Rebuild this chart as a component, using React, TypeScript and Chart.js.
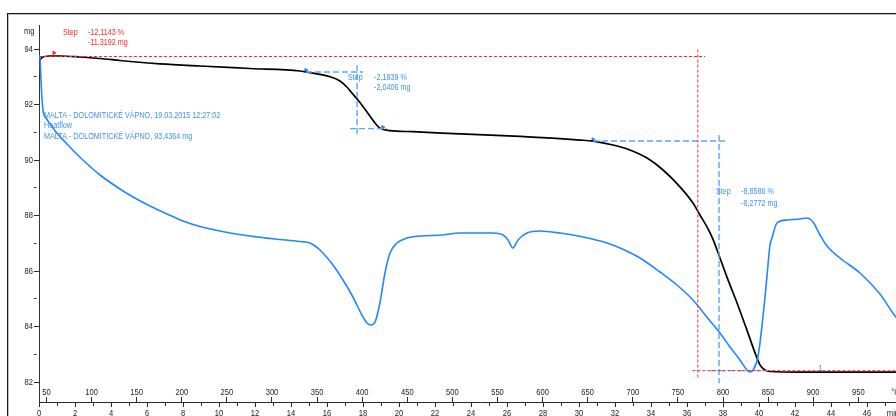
import React, { useEffect, useRef } from "react";
import { Chart, registerables } from "chart.js";

Chart.register(...registerables);

// ---------- DATA ----------
// TG curve: time (min) vs mass (mg)
const tgTime = [0, 0.056, 0.167, 0.556, 1.167, 2.278, 3.389, 4.5, 5.389, 6.722, 8.944, 11.72, 14.5, 14.83, 16.17, 16.72, 17.09, 17.39, 17.72, 18.21, 18.67, 18.94, 19.5, 20.78, 23.39, 26.72, 30.06, 30.78, 31.89, 32.83, 33.78, 34.67, 35.61, 36.33, 36.72, 37.11, 37.44, 37.67, 38.22, 38.78, 39.33, 39.78, 40.06, 40.33, 40.61, 42.28, 45, 49];
const tgMass = [93.495, 93.586, 93.694, 93.748, 93.748, 93.712, 93.658, 93.586, 93.532, 93.467, 93.387, 93.297, 93.207, 93.171, 93.0, 92.85, 92.64, 92.41, 92.16, 91.74, 91.33, 91.15, 91.06, 91.02, 90.94, 90.85, 90.72, 90.68, 90.54, 90.36, 90.07, 89.64, 89.03, 88.45, 88.02, 87.59, 87.15, 86.76, 85.78, 84.85, 83.87, 83.05, 82.61, 82.43, 82.38, 82.36, 82.36, 82.36];

// DSC curve: time (min) vs heat flow (mW/mg)
const dscTime = [0, 0.06, 0.11, 0.17, 0.24, 0.39, 0.67, 0.94, 1.5, 2.44, 3.39, 4.33, 5.22, 6.17, 7.11, 8.0, 8.94, 10.33, 11.72, 13.11, 14.5, 15.06, 15.61, 16.33, 16.89, 17.44, 17.94, 18.22, 18.44, 18.67, 18.94, 19.22, 19.5, 19.89, 20.44, 21.17, 22.44, 23.39, 24.33, 25.22, 25.78, 26.06, 26.33, 26.61, 27.11, 27.83, 28.94, 30.22, 31.56, 32.28, 33.39, 34.5, 35.44, 36.33, 37.28, 37.83, 38.39, 38.94, 39.33, 39.5, 39.67, 39.94, 40.22, 40.44, 40.61, 40.72, 41.0, 41.56, 42.28, 42.67, 43.0, 43.39, 43.78, 44.5, 45.61, 46.72, 47.44, 47.83, 49];
const dscHeat = [2.45, 2.4, 2.2, 2.0, 1.88, 1.82, 1.75, 1.68, 1.57, 1.4, 1.25, 1.13, 1.03, 0.94, 0.86, 0.79, 0.735, 0.68, 0.64, 0.61, 0.585, 0.57, 0.5, 0.35, 0.2, 0.03, -0.15, -0.23, -0.25, -0.22, -0.03, 0.27, 0.47, 0.57, 0.62, 0.64, 0.65, 0.67, 0.67, 0.67, 0.65, 0.6, 0.52, 0.6, 0.67, 0.69, 0.67, 0.63, 0.57, 0.52, 0.42, 0.28, 0.15, 0.0, -0.21, -0.33, -0.47, -0.6, -0.7, -0.72, -0.7, -0.57, -0.17, 0.23, 0.55, 0.62, 0.77, 0.8, 0.81, 0.82, 0.78, 0.65, 0.54, 0.42, 0.27, 0.06, -0.13, -0.22, -0.4];

// Step evaluations (time in min, mass in mg)
const redStepTop = 93.73;
const redStepBottom = 82.41;
const redStepTime = 36.6;
const step1Top = 93.17;
const step1Bottom = 91.13;
const step1Time = 17.67;
const step1Start = 14.83;
const step2Top = 90.685;
const step2Bottom = 82.41;
const step2Time = 37.78;
const step2Start = 30.78;

// Axis definitions
const timeRange = [0, 49];
const tempRange = [41.7, 1019.5];
const massRange = [81.28, 94.865];
const heatRange = [-1.02, 2.75];
const timeLabelMax = 46;
const tempLabelMax = 950;

const RED = "#ff2a2a";
const BLUE = "#1e88ff";
const BLUE_DASH = "#5aa6ff";
const BLUE_TEXT = "#3a93f5";
const AXIS = "#2a2a2a";
const FONT = "'Liberation Sans', Arial, sans-serif";
const SQUEEZE = 0.8;

// annotation texts (time, mass, text, colour)
const annoT = [1.33, 2.72, 2.72, 17.17, 18.61, 18.61, 37.61, 39.0, 39.0, 0.28, 0.28, 0.28, 43.3];
const annoM = [94.61, 94.61, 94.25, 92.99, 92.99, 92.63, 88.85, 88.85, 88.45, 91.62, 91.23, 90.86, 82.5];
const annoText = ["Step", "-12,1143 %", "-11,3192 mg", "Step", "-2,1839 %", "-2,0406 mg", "Step", "-8,8586 %", "-8,2772 mg", "MALTA - DOLOMITICKÉ VÁPNO, 19.03.2015 12:27:02", "Heatflow", "MALTA - DOLOMITICKÉ VÁPNO, 93,4364 mg", "1"];
const annoColor = [RED, RED, RED, BLUE_TEXT, BLUE_TEXT, BLUE_TEXT, BLUE_TEXT, BLUE_TEXT, BLUE_TEXT, BLUE_TEXT, BLUE_TEXT, BLUE_TEXT, BLUE_TEXT];

function squeezedText(ctx: CanvasRenderingContext2D, text: string, px: number, py: number, align: CanvasTextAlign) {
  ctx.save();
  ctx.translate(px, py);
  ctx.scale(SQUEEZE, 1);
  ctx.textAlign = align;
  ctx.fillText(text, 0, 0);
  ctx.restore();
}

const textPlugin = {
  id: "annoTexts",
  afterDraw(chart: any) {
    const { ctx, scales, chartArea } = chart;
    const x = scales.x;
    const y = scales.y;
    const x2 = scales.x2;
    ctx.save();
    ctx.font = `9px ${FONT}`;
    ctx.textBaseline = "middle";
    for (let i = 0; i < annoText.length; i++) {
      ctx.fillStyle = annoColor[i];
      squeezedText(ctx, annoText[i], x.getPixelForValue(annoT[i]), y.getPixelForValue(annoM[i]), "left");
    }
    ctx.fillStyle = "#222";
    ctx.font = `9.5px ${FONT}`;
    // y tick labels
    for (const t of y.ticks) {
      const v = Math.round(t.value);
      if (v % 2 === 0) squeezedText(ctx, String(v), chartArea.left - 6, y.getPixelForValue(t.value), "right");
    }
    // temperature tick labels
    for (const t of x2.ticks) {
      if (t.value <= tempLabelMax) squeezedText(ctx, String(t.value), x2.getPixelForValue(t.value), chartArea.bottom - 10, "center");
    }
    // time tick labels
    for (const t of x.ticks) {
      const v = Math.round(t.value);
      if (v % 2 === 0 && v <= timeLabelMax) squeezedText(ctx, String(v), x.getPixelForValue(t.value), chartArea.bottom + 11, "center");
    }
    squeezedText(ctx, "mg", chartArea.left - 15, chartArea.top + 6, "left");
    squeezedText(ctx, "°C", x.getPixelForValue(47.35), chartArea.bottom - 10, "left");
    squeezedText(ctx, "min", x.getPixelForValue(47.1), chartArea.bottom + 11, "left");
    ctx.restore();
  },
};

function seg(x1: number, y1: number, x2: number, y2: number) {
  return [
    { x: x1, y: y1 },
    { x: x2, y: y2 },
  ];
}

export default function App() {
  const ref = useRef<HTMLCanvasElement | null>(null);

  useEffect(() => {
    if (!ref.current) return;
    const redDash = { borderColor: RED, borderWidth: 1, borderDash: [3, 2], pointRadius: 0, yAxisID: "y", xAxisID: "x" };
    const blueDash = { borderColor: BLUE_DASH, borderWidth: 1.4, borderDash: [6, 3], pointRadius: 0, yAxisID: "y", xAxisID: "x" };
    const chart = new Chart(ref.current, {
      type: "line",
      data: {
        datasets: [
          { ...redDash, data: seg(0, redStepTop, 37.0, redStepTop) },
          { ...redDash, data: seg(redStepTime, 93.98, redStepTime, 82.15) },
          { ...redDash, data: seg(36.3, redStepBottom, 49, redStepBottom) },
          { ...blueDash, data: seg(step1Start, step1Top, 18.0, step1Top) },
          { ...blueDash, data: seg(step1Time, 93.42, step1Time, 90.9) },
          { ...blueDash, data: seg(17.28, step1Bottom, 19.33, step1Bottom) },
          { ...blueDash, data: seg(step2Start, step2Top, 38.17, step2Top) },
          { ...blueDash, data: seg(step2Time, 90.9, step2Time, 81.96) },
          { ...blueDash, data: seg(37.3, step2Bottom, 40.5, step2Bottom) },
          {
            label: "Heatflow",
            data: dscTime.map((t, i) => ({ x: t, y: dscHeat[i] })),
            borderColor: BLUE,
            borderWidth: 1.6,
            pointRadius: 0,
            cubicInterpolationMode: "monotone",
            yAxisID: "y2",
            xAxisID: "x",
          },
          {
            label: "TG",
            data: tgTime.map((t, i) => ({ x: t, y: tgMass[i] })),
            borderColor: "#000",
            borderWidth: 1.7,
            pointRadius: 0,
            cubicInterpolationMode: "monotone",
            yAxisID: "y",
            xAxisID: "x",
          },
          {
            label: "markers",
            data: [
              { x: step1Start, y: 93.24 },
              { x: step2Start, y: 90.74 },
              { x: 19.1, y: 91.18 },
            ],
            showLine: false,
            pointStyle: "triangle",
            rotation: 90,
            pointRadius: 2,
            pointBackgroundColor: BLUE,
            pointBorderColor: BLUE,
            yAxisID: "y",
            xAxisID: "x",
          },
          {
            label: "redmarker",
            data: [{ x: 0.83, y: 93.86 }],
            showLine: false,
            pointStyle: "triangle",
            rotation: 90,
            pointRadius: 2,
            pointBackgroundColor: RED,
            pointBorderColor: RED,
            yAxisID: "y",
            xAxisID: "x",
          },
        ] as any,
      },
      options: {
        animation: false,
        responsive: false,
        devicePixelRatio: 1,
        events: [],
        layout: { padding: { left: 0, top: 25, right: 39, bottom: 0 }, autoPadding: false } as any,
        plugins: { legend: { display: false }, tooltip: { enabled: false } },
        scales: {
          x: {
            type: "linear",
            position: "bottom",
            min: timeRange[0],
            max: timeRange[1],
            afterFit: (s: any) => {
              s.height = 28;
            },
            border: { display: true, color: AXIS, width: 1 },
            grid: {
              drawOnChartArea: false,
              tickLength: 5,
              tickColor: AXIS,
              tickBorderDash: (c: any) => (c.tick && Math.round(c.tick.value) % 2 !== 0 ? [3, 20] : []),
            } as any,
            ticks: { stepSize: 1, autoSkip: false, maxRotation: 0, display: false },
          },
          x2: {
            type: "linear",
            position: { y: 81.459 } as any,
            min: tempRange[0],
            max: tempRange[1],
            border: { display: false },
            grid: { drawOnChartArea: false, tickLength: 5, tickColor: AXIS },
            ticks: { stepSize: 50, includeBounds: false, autoSkip: false, maxRotation: 0, display: false },
          } as any,
          y: {
            type: "linear",
            position: "left",
            min: massRange[0],
            max: massRange[1],
            afterFit: (s: any) => {
              s.width = 39;
            },
            border: { display: true, color: "#333", width: 1 },
            grid: {
              drawOnChartArea: false,
              tickLength: 5,
              tickColor: AXIS,
              tickBorderDash: (c: any) => (c.tick && Math.round(c.tick.value) % 2 !== 0 ? [2.5, 20] : []),
            } as any,
            ticks: { stepSize: 1, includeBounds: false, autoSkip: false, display: false } as any,
          },
          y2: {
            type: "linear",
            display: false,
            min: heatRange[0],
            max: heatRange[1],
          },
        },
      },
      plugins: [textPlugin],
    });
    return () => chart.destroy();
  }, []);

  return (
    <div
      style={{
        position: "fixed",
        left: 0,
        top: 0,
        width: 896,
        height: 416,
        overflow: "hidden",
        background: "#fff",
      }}
    >
      <div
        style={{
          position: "absolute",
          left: 7,
          top: 13,
          width: 1200,
          height: 1200,
          borderLeft: "1px solid #1a1a1a",
          borderTop: "1px solid #1a1a1a",
          boxShadow: "inset 1px 1px 0 #bdbdbd",
        }}
      />
      <canvas
        ref={ref}
        width={960}
        height={430}
        style={{ position: "absolute", left: 0, top: 0, width: 960, height: 430 }}
      />
    </div>
  );
}
